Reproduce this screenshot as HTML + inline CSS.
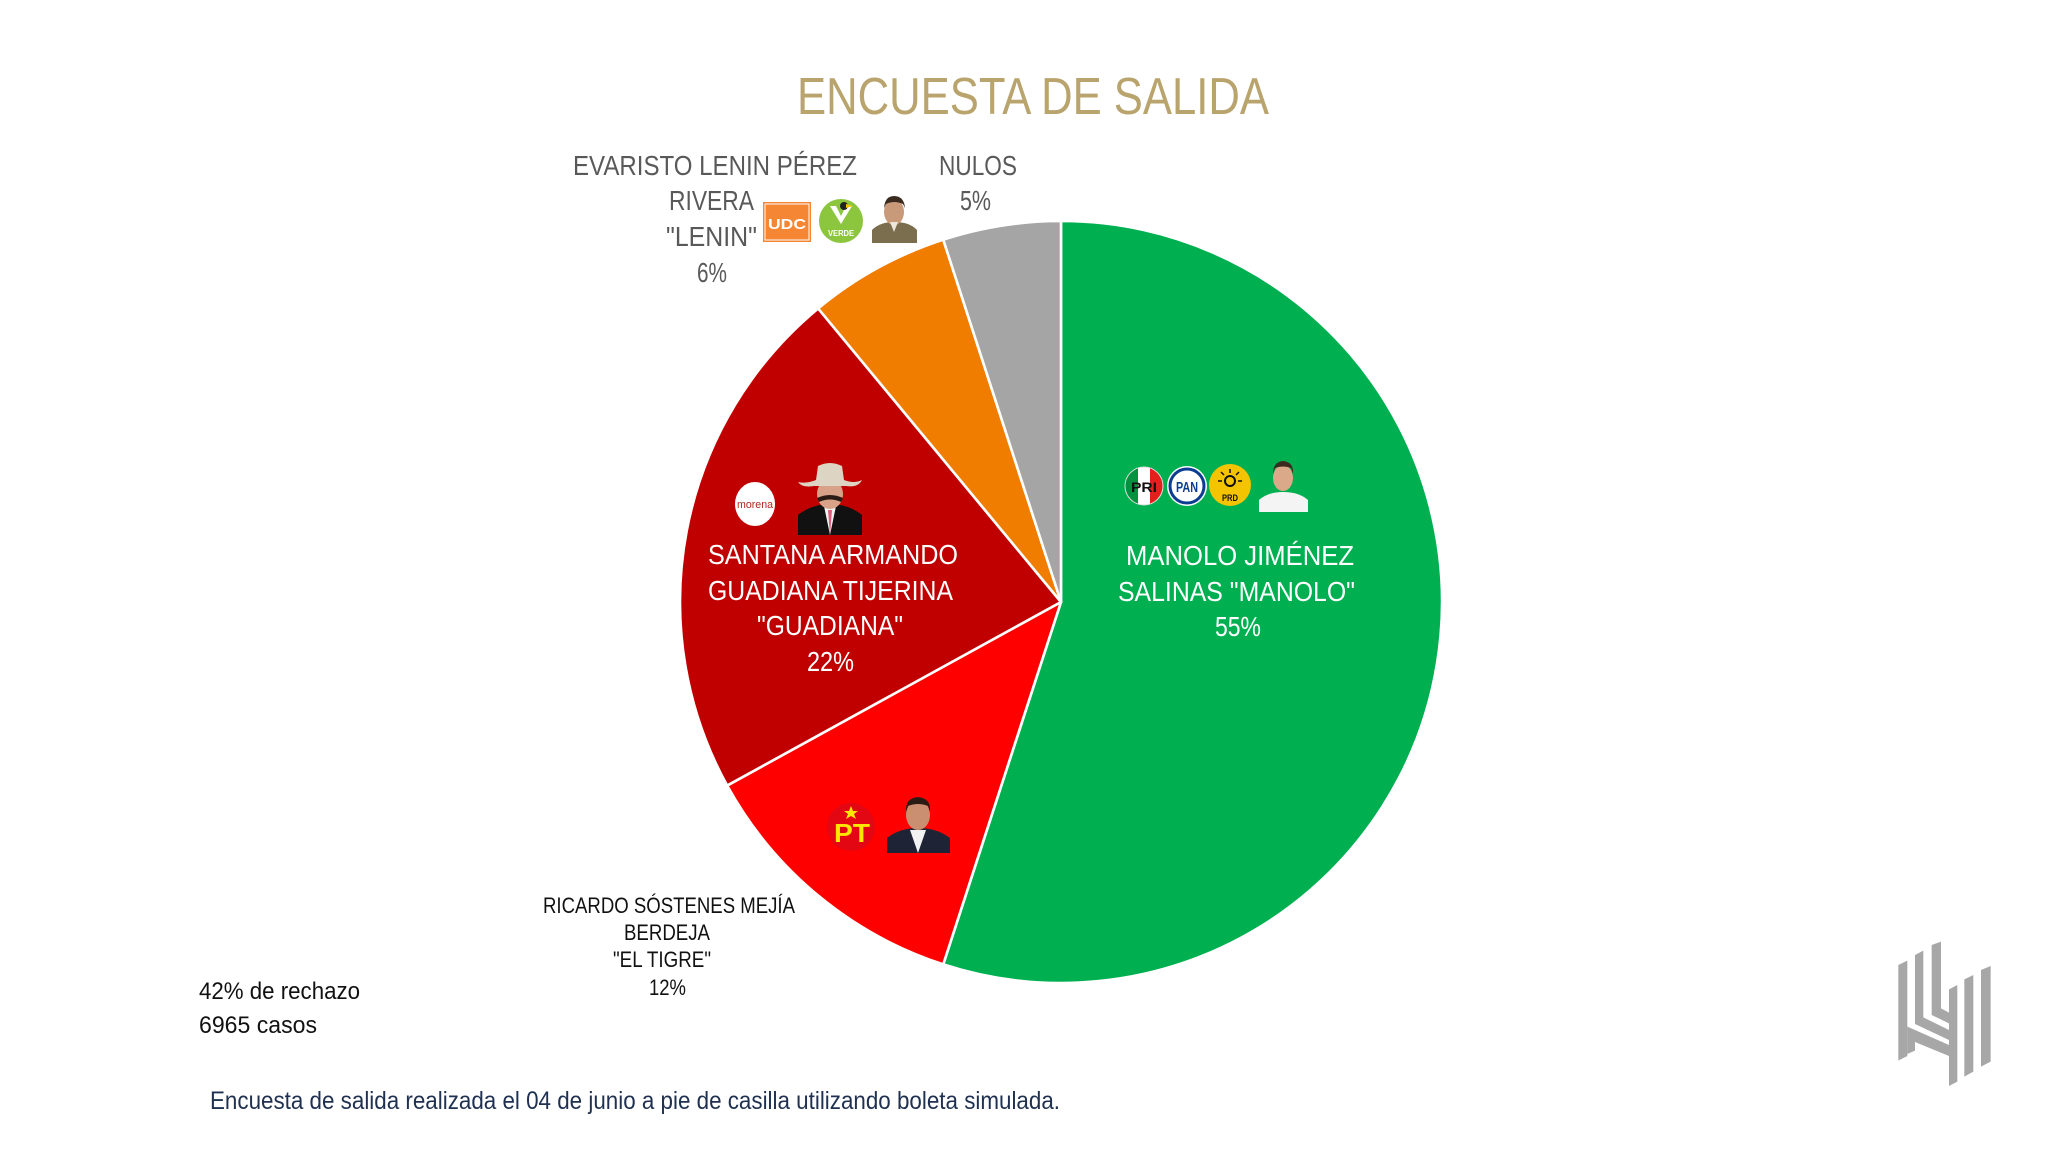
<!DOCTYPE html>
<html>
<head>
<meta charset="utf-8">
<style>
  html,body{margin:0;padding:0;background:#ffffff;}
  svg{display:block;}
  text{font-family:"Liberation Sans Narrow","Liberation Sans",sans-serif;}
</style>
</head>
<body>
<svg width="2067" height="1163" viewBox="0 0 2067 1163" xmlns="http://www.w3.org/2000/svg">
  <rect x="0" y="0" width="2067" height="1163" fill="#ffffff"/>

  <!-- Title -->
  <text x="797" y="114" font-size="52" fill="#B8A46C" textLength="472" lengthAdjust="spacingAndGlyphs">ENCUESTA DE SALIDA</text>

  <!-- Pie -->
  <g stroke="#ffffff" stroke-width="2.6" stroke-linejoin="round">
    <path d="M1061,602 L1061,221 A381,381 0 1 1 943.26,964.35 Z" fill="#00B050"/>
    <path d="M1061,602 L943.26,964.35 A381,381 0 0 1 727.13,785.55 Z" fill="#FF0000"/>
    <path d="M1061,602 L727.13,785.55 A381,381 0 0 1 818.14,308.44 Z" fill="#C00000"/>
    <path d="M1061,602 L818.14,308.44 A381,381 0 0 1 943.26,239.65 Z" fill="#F07C00"/>
    <path d="M1061,602 L943.26,239.65 A381,381 0 0 1 1061,221 Z" fill="#A5A5A5"/>
  </g>

  <!-- Lenin label -->
  <g fill="#595959" font-size="28">
    <text x="573" y="175" textLength="284" lengthAdjust="spacingAndGlyphs">EVARISTO LENIN PÉREZ</text>
    <text x="669" y="210" textLength="85" lengthAdjust="spacingAndGlyphs">RIVERA</text>
    <text x="666" y="246" textLength="91" lengthAdjust="spacingAndGlyphs">"LENIN"</text>
    <text x="697" y="282" textLength="30" lengthAdjust="spacingAndGlyphs">6%</text>
    <text x="939" y="175" textLength="78" lengthAdjust="spacingAndGlyphs">NULOS</text>
    <text x="960" y="210" textLength="31" lengthAdjust="spacingAndGlyphs">5%</text>
  </g>

  <!-- UDC logo -->
  <rect x="763" y="202" width="48" height="40" fill="#F58634"/>
  <rect x="765" y="204" width="44" height="36" fill="none" stroke="#ffffff" stroke-width="1"/>
  <text x="768" y="229" font-size="15" font-weight="bold" fill="#ffffff" textLength="38" lengthAdjust="spacingAndGlyphs">UDC</text>
  <!-- VERDE logo -->
  <circle cx="841" cy="221" r="22" fill="#8CC63F"/>
  <path d="M830,206 L841,224 L852,206 L846,206 L841,216 L836,206 Z" fill="#ffffff"/>
  <circle cx="844" cy="206" r="4" fill="#222"/>
  <path d="M846,204 L853,206 L846,208 Z" fill="#F5C400"/>
  <text x="828" y="236" font-size="8" font-weight="bold" fill="#ffffff" textLength="26" lengthAdjust="spacingAndGlyphs">VERDE</text>
  <!-- Lenin photo -->
  <rect x="872" y="194" width="45" height="49" fill="#ffffff"/>
  <path d="M872,243 L872,230 Q880,222 894,222 Q910,222 917,230 L917,243 Z" fill="#7A6E4E"/>
  <ellipse cx="894" cy="212" rx="10" ry="13" fill="#C99A7A"/>
  <path d="M884,208 Q885,196 894,196 Q904,196 905,208 L903,204 Q894,200 886,204 Z" fill="#3A2A20"/>
  <path d="M890,222 L894,232 L898,222 Z" fill="#EDE6DA"/>

  <!-- Manolo label -->
  <g fill="#ffffff" font-size="28">
    <text x="1126" y="565" textLength="228" lengthAdjust="spacingAndGlyphs">MANOLO  JIMÉNEZ</text>
    <text x="1118" y="601" textLength="237" lengthAdjust="spacingAndGlyphs">SALINAS "MANOLO"</text>
    <text x="1215" y="636" textLength="46" lengthAdjust="spacingAndGlyphs">55%</text>
  </g>
  <!-- PRI -->
  <circle cx="1144" cy="486" r="19" fill="#ffffff"/>
  <path d="M1138,468 L1138,504 A19,19 0 0 1 1138,468 Z" fill="#00923F"/>
  <path d="M1150,468 A19,19 0 0 1 1150,504 Z" fill="#E3201B"/>
  <circle cx="1144" cy="486" r="19" fill="none" stroke="#dddddd" stroke-width="1"/>
  <text x="1131" y="492" font-size="14" font-weight="bold" fill="#111" textLength="26" lengthAdjust="spacingAndGlyphs">PRI</text>
  <!-- PAN -->
  <circle cx="1187" cy="486" r="20" fill="#ffffff"/>
  <circle cx="1187" cy="486" r="17" fill="none" stroke="#0A3D91" stroke-width="3"/>
  <text x="1176" y="492" font-size="15" font-weight="bold" fill="#0A3D91" textLength="22" lengthAdjust="spacingAndGlyphs">PAN</text>
  <!-- PRD -->
  <circle cx="1230" cy="485" r="21" fill="#F5C400"/>
  <circle cx="1230" cy="481" r="5" fill="none" stroke="#111" stroke-width="2"/>
  <g stroke="#111" stroke-width="1.5">
    <line x1="1230" y1="469" x2="1230" y2="473"/><line x1="1222" y1="481" x2="1218" y2="481"/>
    <line x1="1238" y1="481" x2="1242" y2="481"/><line x1="1224" y1="475" x2="1221" y2="472"/>
    <line x1="1236" y1="475" x2="1239" y2="472"/>
  </g>
  <text x="1222" y="501" font-size="9" font-weight="bold" fill="#111" textLength="16" lengthAdjust="spacingAndGlyphs">PRD</text>
  <!-- Manolo photo -->
  <path d="M1259,512 L1259,500 Q1268,492 1283,492 Q1299,492 1308,500 L1308,512 Z" fill="#F4F4F4"/>
  <ellipse cx="1283" cy="478" rx="10" ry="13" fill="#D9A98A"/>
  <path d="M1273,474 Q1273,462 1283,461 Q1294,462 1293,474 L1291,468 Q1283,465 1275,468 Z" fill="#3A2A20"/>

  <!-- Santana label -->
  <g fill="#ffffff" font-size="28">
    <text x="708" y="564" textLength="250" lengthAdjust="spacingAndGlyphs">SANTANA ARMANDO</text>
    <text x="708" y="600" textLength="245" lengthAdjust="spacingAndGlyphs">GUADIANA TIJERINA</text>
    <text x="757" y="635" textLength="146" lengthAdjust="spacingAndGlyphs">"GUADIANA"</text>
    <text x="807" y="671" textLength="47" lengthAdjust="spacingAndGlyphs">22%</text>
  </g>
  <!-- morena -->
  <ellipse cx="755" cy="504" rx="20" ry="22" fill="#ffffff"/>
  <text x="737" y="508" font-size="11" fill="#B5261E" textLength="36" lengthAdjust="spacingAndGlyphs">morena</text>
  <!-- Santana photo -->
  <path d="M798,535 L798,515 Q812,504 830,504 Q848,504 862,515 L862,535 Z" fill="#111111"/>
  <path d="M824,506 L830,535 L836,506 Z" fill="#F2F2F2"/>
  <path d="M828,510 L830,535 L832,510 Z" fill="#E05A7A"/>
  <ellipse cx="830" cy="494" rx="13" ry="15" fill="#D7A287"/>
  <path d="M817,498 Q830,492 843,498 L841,502 Q830,497 819,502 Z" fill="#2A1C14"/>
  <path d="M798,482 Q806,484 816,480 L818,466 Q830,460 842,466 L844,480 Q854,484 862,480 Q858,488 846,486 L814,486 Q802,488 798,482 Z" fill="#DDD4C4"/>

  <!-- PT -->
  <circle cx="851" cy="827" r="24" fill="#E30613"/>
  <text x="834" y="842" font-size="26" font-weight="bold" fill="#FFE600" textLength="36" lengthAdjust="spacingAndGlyphs">PT</text>
  <path d="M851,806 L853,811 L858,811 L854,814 L856,819 L851,816 L846,819 L848,814 L844,811 L849,811 Z" fill="#FFE600"/>
  <!-- PT photo -->
  <path d="M887,853 L887,838 Q900,828 918,828 Q937,828 950,838 L950,853 Z" fill="#1E2435"/>
  <path d="M910,830 L918,853 L926,830 Z" fill="#F2F2F2"/>
  <ellipse cx="918" cy="815" rx="12" ry="15" fill="#C98F70"/>
  <path d="M906,812 Q905,798 918,797 Q931,798 930,812 L928,806 Q918,802 908,806 Z" fill="#2A1C14"/>

  <!-- Ricardo label -->
  <g fill="#111111" font-size="22">
    <text x="543" y="913" textLength="252" lengthAdjust="spacingAndGlyphs">RICARDO SÓSTENES MEJÍA</text>
    <text x="624" y="940" textLength="86" lengthAdjust="spacingAndGlyphs">BERDEJA</text>
    <text x="613" y="967" textLength="98" lengthAdjust="spacingAndGlyphs">"EL TIGRE"</text>
    <text x="649" y="995" textLength="37" lengthAdjust="spacingAndGlyphs">12%</text>
  </g>

  <!-- Notes -->
  <g fill="#111111" font-size="24">
    <text x="199" y="999" textLength="161" lengthAdjust="spacingAndGlyphs">42% de rechazo</text>
    <text x="199" y="1033" textLength="118" lengthAdjust="spacingAndGlyphs">6965 casos</text>
  </g>

  <!-- Footer -->
  <text x="210" y="1109" font-size="25" fill="#1F3050" textLength="850" lengthAdjust="spacingAndGlyphs">Encuesta de salida realizada el 04 de junio a pie de casilla utilizando boleta simulada.</text>

  <!-- Logo -->
  <g transform="translate(1870,930) scale(0.3333)" fill="#A7A7A7">
    <polygon points="85,105 112,92 112,378 85,392"/>
    <polygon points="135,75 160,62 160,262 237,300 237,330 135,282"/>
    <polygon points="185,45 213,35 213,235 237,248 237,280 185,255"/>
    <polygon points="112,290 237,345 237,378 135,336 135,362 112,372"/>
    <polygon points="237,178 262,165 262,455 237,468 237,388"/>
    <polygon points="283,148 310,135 310,425 283,440"/>
    <polygon points="333,120 362,108 362,395 333,410"/>
  </g>
</svg>
</body>
</html>
